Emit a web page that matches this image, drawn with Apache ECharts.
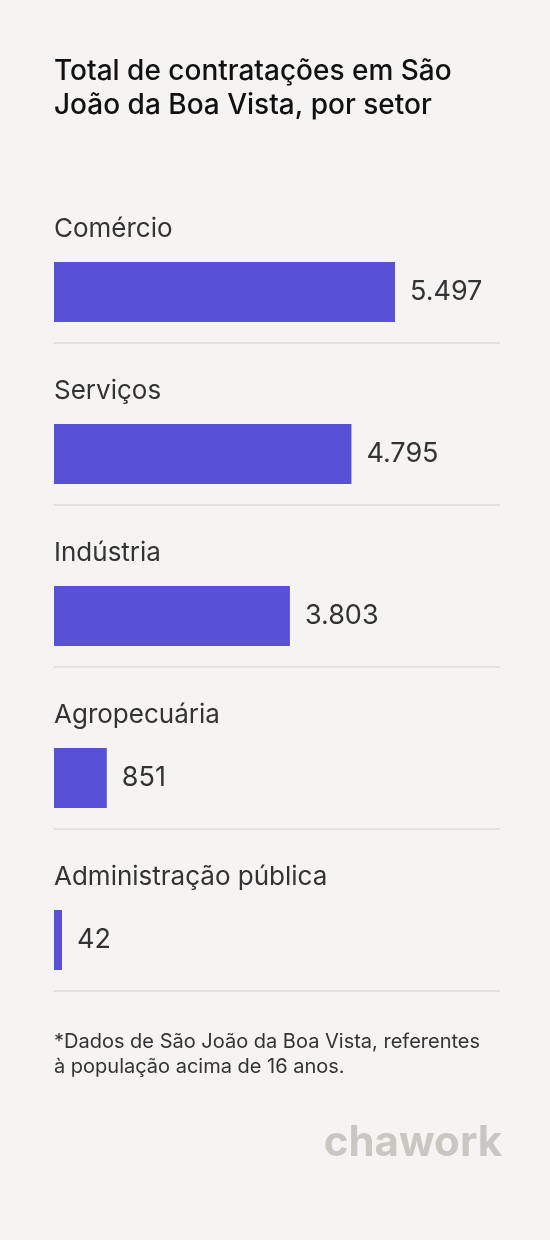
<!DOCTYPE html>
<html><head><meta charset="utf-8">
<script src="https://cdn.jsdelivr.net/npm/echarts@6/dist/echarts.min.js"></script>
<style>html,body{margin:0;padding:0;background:#f5f4f2}#c{width:550px;height:1240px}</style>
</head><body><div id="c"></div>
<script>
var setores = ['Comércio', 'Serviços', 'Indústria', 'Agropecuária', 'Administração pública'];
var contratacoes = [5497, 4795, 3803, 851, 42];

function fmt(v) { return String(v).replace(/\B(?=(\d{3})+(?!\d))/g, '.'); }

var chart = echarts.init(document.getElementById('c'));
var font = 'Inter, "Noto Sans", sans-serif';
chart.setOption({
  backgroundColor: '#f5f4f2',
  animation: false,
  title: {
    text: 'Total de contratações em São\nJoão da Boa Vista, por setor',
    left: 49, top: 50,
    textStyle: { fontFamily: font, fontSize: 28, fontWeight: 500, color: '#111', lineHeight: 34 }
  },
  grid: { left: 54, width: 446, top: 211, height: 810 },
  xAxis: { type: 'value', min: 0, max: 7190, show: false },
  yAxis: { type: 'category', data: setores, inverse: true, show: false },
  series: [{
    type: 'bar', data: contratacoes, barWidth: 60, barMinHeight: 8,
    itemStyle: { color: '#5850d6' },
    label: {
      show: true, position: [0, -46], formatter: function (p) { return p.name; },
      fontFamily: font, fontSize: 26, color: '#333'
    }
  }, {
    type: 'bar', data: contratacoes, barWidth: 60, barMinHeight: 8, barGap: '-100%',
    itemStyle: { color: 'transparent' },
    label: {
      show: true, position: 'right', distance: 15, formatter: function (p) { return fmt(p.value); },
      fontFamily: font, fontSize: 27, color: '#333'
    }
  }]
});

var g = [];
setores.forEach(function (s) {
  var y = chart.convertToPixel({ gridIndex: 0 }, [0, s])[1] + 51;
  g.push({ type: 'line', shape: { x1: 54, y1: y, x2: 500, y2: y }, style: { stroke: '#dddbd7', lineWidth: 1.5 } });
});
g.push({ type: 'text', left: 54, top: 1029, style: {
  text: '*Dados de São João da Boa Vista, referentes\nà população acima de 16 anos.',
  font: '20px ' + font, fill: '#333', lineHeight: 25 } });
g.push({ type: 'text', right: 48, top: 1122, style: {
  text: 'chawork', font: 'bold 42px ' + font, fill: '#c9c7c1' } });
chart.setOption({ graphic: g });
</script></body></html>
